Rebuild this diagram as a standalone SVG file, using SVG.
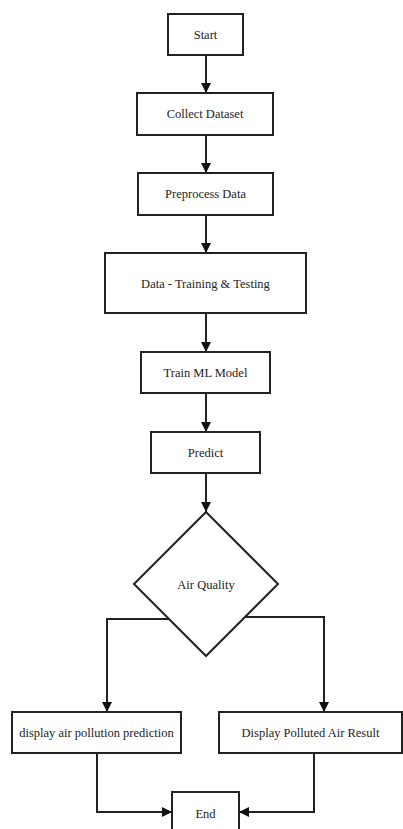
<svg xmlns="http://www.w3.org/2000/svg" width="403" height="829" viewBox="0 0 403 829">
<style>
.box{fill:#fff;stroke:#222;stroke-width:2}
.lbl{font-family:"Liberation Serif","Times New Roman",serif;font-size:12.5px;fill:#222;text-anchor:middle;dominant-baseline:central}
.con{fill:none;stroke:#222;stroke-width:2}
</style>
<defs>
<marker id="ah" viewBox="0 0 10 10" refX="10" refY="5" markerWidth="5" markerHeight="5" orient="auto" markerUnits="strokeWidth">
<path d="M0,0 L10,5 L0,10 z" fill="#111"/>
</marker>
</defs>
<rect width="403" height="829" fill="#fff"/>
<g id="connectors">
<path class="con" d="M206,55 V93" marker-end="url(#ah)"/>
<path class="con" d="M206,135 V173" marker-end="url(#ah)"/>
<path class="con" d="M206,215 V253" marker-end="url(#ah)"/>
<path class="con" d="M206,313 V352" marker-end="url(#ah)"/>
<path class="con" d="M206,393 V432" marker-end="url(#ah)"/>
<path class="con" d="M206,473 V512" marker-end="url(#ah)"/>
<path class="con" d="M169,619 H107 V712" marker-end="url(#ah)"/>
<path class="con" d="M243,617 H324 V712" marker-end="url(#ah)"/>
<path class="con" d="M97,753 V812 H172" marker-end="url(#ah)"/>
<path class="con" d="M314,753 V812 H239" marker-end="url(#ah)"/>
</g>
<g id="start"><rect class="box" x="168" y="14" width="75" height="41"/><text class="lbl" x="205.5" y="35">Start</text></g>
<g id="collect"><rect class="box" x="137" y="93" width="136" height="42"/><text class="lbl" x="205" y="114">Collect Dataset</text></g>
<g id="preprocess"><rect class="box" x="138" y="173" width="135" height="42"/><text class="lbl" x="205.5" y="194">Preprocess Data</text></g>
<g id="split"><rect class="box" x="105" y="253" width="201" height="60"/><text class="lbl" x="205.5" y="284">Data - Training &amp; Testing</text></g>
<g id="train"><rect class="box" x="141" y="352" width="129" height="41"/><text class="lbl" x="205.5" y="373">Train ML Model</text></g>
<g id="predict"><rect class="box" x="151" y="432" width="109" height="41"/><text class="lbl" x="205.5" y="453">Predict</text></g>
<g id="decision"><polygon class="box" points="206,512 278,584 206,656 134,584"/><text class="lbl" x="206" y="585">Air Quality</text></g>
<g id="display1"><rect class="box" x="12" y="712" width="169" height="41"/><text class="lbl" x="96.5" y="733">display air pollution prediction</text></g>
<g id="display2"><rect class="box" x="219" y="712" width="183" height="41"/><text class="lbl" x="310.5" y="733">Display Polluted Air Result</text></g>
<g id="end"><rect class="box" x="172" y="792" width="67" height="45"/><text class="lbl" x="205.5" y="814">End</text></g>
</svg>
